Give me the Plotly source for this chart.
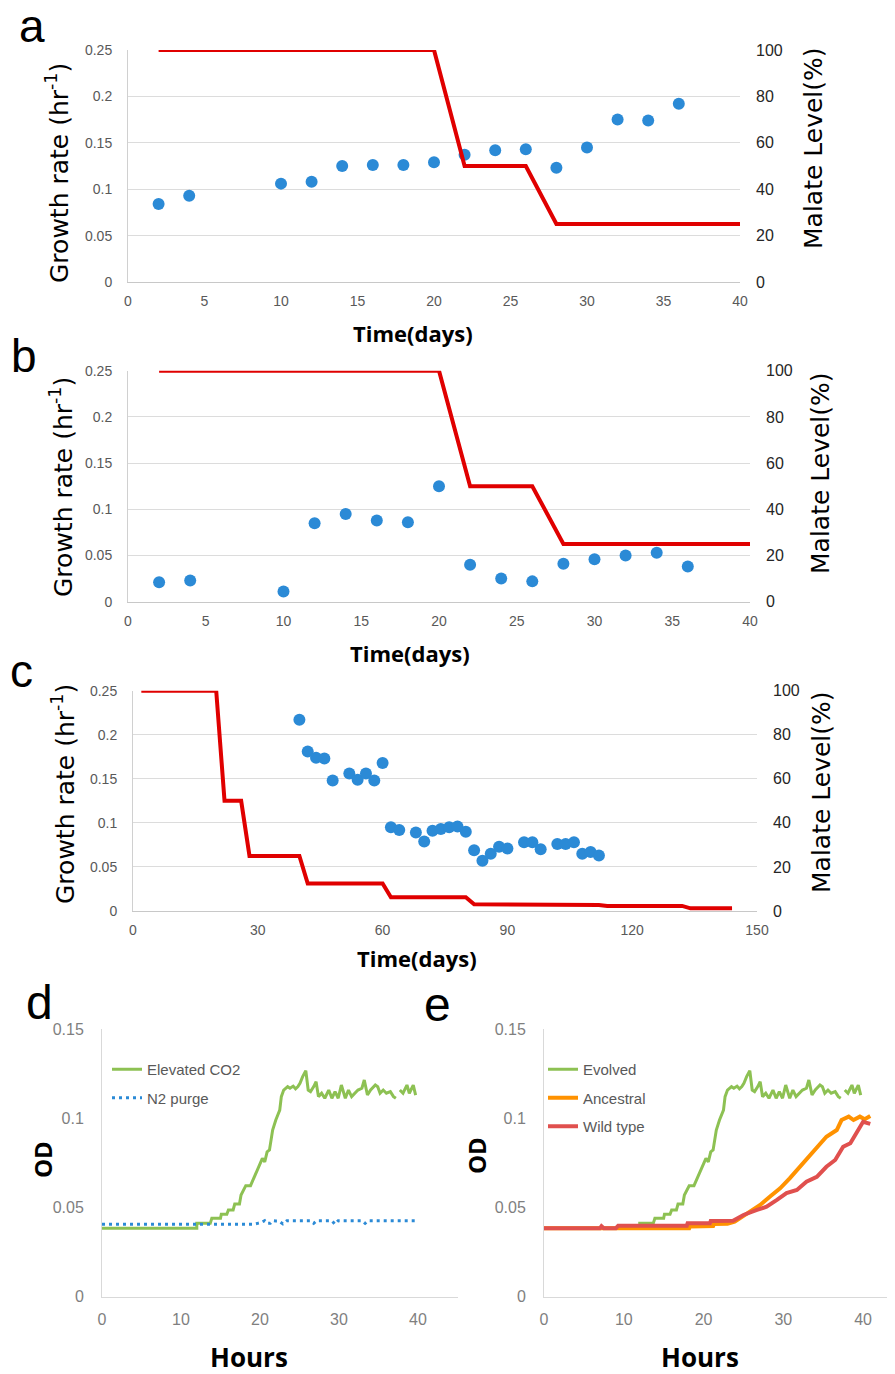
import plotly.graph_objects as go

# page body has an 8px margin: the figure is sized and positioned to compensate
OFF = 8
W, H = 895 - OFF, 1374 - OFF

# ---------------- data ----------------
# panel a
a_days = [2, 4, 10, 12, 14, 16, 18, 20, 22, 24, 26, 28, 30, 32, 34, 36]
a_growth = [0.084, 0.093, 0.106, 0.108, 0.125, 0.126, 0.126, 0.129, 0.137, 0.142, 0.143, 0.123, 0.145, 0.175, 0.174, 0.192]
a_malate_days = [2, 20, 22, 26, 28, 40]
a_malate = [100, 100, 50, 50, 25, 25]

# panel b
b_days = [2, 4, 10, 12, 14, 16, 18, 20, 22, 24, 26, 28, 30, 32, 34, 36]
b_growth = [0.021, 0.023, 0.011, 0.085, 0.095, 0.088, 0.086, 0.125, 0.040, 0.025, 0.022, 0.041, 0.046, 0.050, 0.053, 0.038]
b_malate_days = [2, 20, 22, 26, 28, 40]
b_malate = [100, 100, 50, 50, 25, 25]

# panel c
c_days = [40, 42, 44, 46, 48, 52, 54, 56, 58, 60, 62, 64, 68, 70, 72, 74, 76, 78, 80,
          82, 84, 86, 88, 90, 94, 96, 98, 102, 104, 106, 108, 110, 112]
c_growth = [0.217, 0.181, 0.174, 0.173, 0.148, 0.156, 0.149, 0.156, 0.148, 0.168, 0.095, 0.092,
            0.089, 0.079, 0.091, 0.093, 0.095, 0.096, 0.090, 0.069, 0.057, 0.065, 0.073, 0.071,
            0.078, 0.078, 0.070, 0.076, 0.076, 0.078, 0.065, 0.067, 0.063]
c_malate_days = [2, 20, 22, 26, 28, 40, 42, 60, 62, 80, 82, 106, 108, 112, 114, 132, 134, 144]
c_malate = [100, 100, 50, 50, 25, 25, 12.5, 12.5, 6.25, 6.25, 3.1, 3.1, 2.7, 2.7, 2.3, 2.3, 1.2, 1.2]

# panel d / e : growth curves (OD vs hours)
evolved_h = [0, 12.0, 12.0, 13.7, 13.9, 15.0, 15.1, 15.8, 16.0, 16.6, 16.8, 17.4, 17.6, 18.2, 18.8,
             19.2, 19.6, 20.0, 20.3, 20.6, 20.9, 21.2, 21.6, 22.0, 22.5, 22.7, 23.0, 23.5, 23.8,
             24.2, 24.5, 24.8, 25.06, 25.4, 25.8, 26.1, 26.4, 26.8, 27.1, 27.4, 27.8, 28.2, 28.7,
             29.1, 29.5, 29.9, 30.3, 30.8, 31.2, 31.6, 32.0, 32.4, 32.9, 33.2, 33.6, 34.0, 34.6,
             34.9, 35.2, 35.6, 36.0, 36.5, 36.9, 37.2, None, 37.7, 38.1, 38.6, 38.9, 39.4, 39.7]
evolved_od = [0.0383, 0.0383, 0.0411, 0.0411, 0.0439, 0.0439, 0.0462, 0.0462, 0.0486, 0.0486, 0.0519,
              0.0519, 0.057, 0.0622, 0.0622, 0.0663, 0.070, 0.0738, 0.0775, 0.0756, 0.0812, 0.0822,
              0.0934, 0.099, 0.1046, 0.1121, 0.1158, 0.1177, 0.1168, 0.1180, 0.1165, 0.1177, 0.1196,
              0.1233, 0.1266, 0.1158, 0.1149, 0.1177, 0.1205, 0.1121, 0.1140, 0.1112, 0.1158,
              0.1112, 0.1149, 0.1112, 0.1186, 0.1112, 0.1158, 0.1121, 0.1140, 0.1158, 0.1168,
              0.1214, 0.1130, 0.1158, 0.1186, 0.1177, 0.1140, 0.1158, 0.1140, 0.1149, 0.1121,
              0.1112, None, 0.1158, 0.1140, 0.1186, 0.1140, 0.1186, 0.1130]

n2_h = [0, 19.2, 19.7, 20.1, 20.6, 20.9, 21.3, 21.6, 22.0, 22.4, 22.9, 23.4, 26.4, 26.8, 27.2,
        29.1, 29.5, 29.9, 32.9, 33.3, 33.7, 40]
n2_od = [0.0406, 0.0406, 0.0411, 0.0415, 0.0426, 0.0411, 0.0411, 0.0426, 0.0424, 0.0424, 0.0408,
         0.0426, 0.0426, 0.0411, 0.0426, 0.0426, 0.0406, 0.0426, 0.0426, 0.0411, 0.0426, 0.0426]

ancestral_h = [0, 18.2, 18.3, 21.2, 21.3, 23.0, 23.9, 25.4, 27.1, 28.3, 29.6, 30.8, 32.1, 33.1,
               34.2, 35.4, 36.7, 37.3, 38.2, 38.8, 39.6, 40.2, 40.9]
ancestral_od = [0.0383, 0.0383, 0.0394, 0.0396, 0.0407, 0.0409, 0.042, 0.0467, 0.0514, 0.056,
                0.0607, 0.0663, 0.0728, 0.0784, 0.084, 0.0896, 0.0934, 0.099, 0.1009, 0.099,
                0.1009, 0.0994, 0.1012]

wild_h = [0, 7.0, 7.2, 7.5, 9.0, 9.3, 17.9, 18.0, 20.8, 20.9, 23.7, 25.0, 26.7, 27.9, 29.2, 30.4,
          31.7, 32.9, 34.2, 35.4, 36.5, 37.5, 38.4, 39.2, 40.0, 40.9]
wild_od = [0.0383, 0.0383, 0.0395, 0.0383, 0.0383, 0.0398, 0.0398, 0.0411, 0.0411, 0.0424, 0.0426,
           0.0458, 0.0486, 0.0504, 0.0542, 0.058, 0.0598, 0.0644, 0.0672, 0.0728, 0.0766, 0.084,
           0.086, 0.0916, 0.098, 0.0968]

growth_ticks = [0, 0.05, 0.1, 0.15, 0.2, 0.25]
growth_ticktext = ["0", "0.05", "0.1", "0.15", "0.2", "0.25"]
malate_ticks = [0, 20, 40, 60, 80, 100]
od_ticks = [0, 0.05, 0.1, 0.15]
od_ticktext = ["0", "0.05", "0.1", "0.15"]

# ---------------- styling ----------------
BLUE = "#2b8ad6"
RED = "#e00000"
GREEN = "#8dc153"
ORANGE = "#ff9200"
WRED = "#e0504e"
NARROW = "Liberation Sans Narrow, Arial Narrow, Liberation Sans, sans-serif"
GRAY = "#595959"


def px(x):
    return (x - OFF) / W


def py(y):
    return 1 - (y - OFF) / H


fig = go.Figure()

panels = [
    ("x", "y", "y2", a_days, a_growth, a_malate_days, a_malate),
    ("x2", "y3", "y4", b_days, b_growth, b_malate_days, b_malate),
    ("x3", "y5", "y6", c_days, c_growth, c_malate_days, c_malate),
]
for xa, yl_, yr_, d, g, md, m in panels:
    fig.add_trace(go.Scatter(x=md, y=m, xaxis=xa, yaxis=yr_, mode="lines",
                             line=dict(color=RED, width=4), showlegend=False,
                             cliponaxis=False))
    fig.add_trace(go.Scatter(x=d, y=g, xaxis=xa, yaxis=yl_, mode="markers",
                             marker=dict(color=BLUE, size=12), showlegend=False,
                             cliponaxis=False))

# panel d
fig.add_trace(go.Scatter(x=evolved_h, y=evolved_od, xaxis="x4", yaxis="y7", mode="lines",
                         name="Elevated CO2", line=dict(color=GREEN, width=3),
                         legend="legend", legendgroup="d1"))
fig.add_trace(go.Scatter(x=n2_h, y=n2_od, xaxis="x4", yaxis="y7", mode="lines",
                         name="N2 purge", line=dict(color=BLUE, width=3, dash="3px,4px"),
                         legend="legend", legendgroup="d2"))
# panel e
fig.add_trace(go.Scatter(x=evolved_h, y=evolved_od, xaxis="x5", yaxis="y8", mode="lines",
                         name="Evolved", line=dict(color=GREEN, width=3),
                         legend="legend2", legendgroup="e1"))
fig.add_trace(go.Scatter(x=ancestral_h, y=ancestral_od, xaxis="x5", yaxis="y8", mode="lines",
                         name="Ancestral", line=dict(color=ORANGE, width=4),
                         legend="legend2", legendgroup="e2"))
fig.add_trace(go.Scatter(x=wild_h, y=wild_od, xaxis="x5", yaxis="y8", mode="lines",
                         name="Wild type", line=dict(color=WRED, width=4),
                         legend="legend2", legendgroup="e3"))

tickfont = dict(family=NARROW, size=14, color=GRAY)
rtickfont = dict(family=NARROW, size=16, color="#262626")


def xax(dom, rng, dtick, anchor, tf=tickfont, standoff=6):
    return dict(domain=dom, range=rng, dtick=dtick, tick0=0, anchor=anchor,
                showgrid=False, zeroline=False, showline=True, linecolor="#c8c8c8",
                linewidth=1, ticks="", tickfont=tf, fixedrange=True,
                ticklabelstandoff=standoff)


def yl(dom, anchor):
    return dict(domain=dom, range=[0, 0.25], tickvals=growth_ticks, ticktext=growth_ticktext,
                anchor=anchor, showgrid=True, gridcolor="#dcdcdc", gridwidth=1,
                zeroline=False, showline=True, linecolor="#d0d0d0", ticks="",
                tickfont=tickfont, ticklabelstandoff=12)


def yr(overlay, anchor):
    return dict(overlaying=overlay, side="right", range=[0, 100], tickvals=malate_ticks,
                anchor=anchor, showgrid=False, zeroline=False, showline=False, ticks="",
                tickfont=rtickfont, ticklabelstandoff=15)


layout = dict(
    width=W, height=H, margin=dict(l=0, r=0, t=0, b=0, autoexpand=False),
    paper_bgcolor="white", plot_bgcolor="white",
    xaxis=xax([px(128), px(740)], [0, 40], 5, "y"),
    yaxis=yl([py(282), py(50)], "x"),
    yaxis2=yr("y", "x"),
    xaxis2=xax([px(128), px(750)], [0, 40], 5, "y3"),
    yaxis3=yl([py(601.7), py(370.7)], "x2"),
    yaxis4=yr("y3", "x2"),
    xaxis3=xax([px(133), px(757)], [0, 150], 30, "y5"),
    yaxis5=yl([py(911), py(690.7)], "x3"),
    yaxis6=yr("y5", "x3"),
)

od_tickfont = dict(family="Liberation Sans, sans-serif", size=16, color="#7f7f7f")
for k, dom, rng, anc in [("xaxis4", [px(102), px(457.5)], [0, 45], "y7"),
                         ("xaxis5", [px(544), 1.0], [0, 44.0], "y8")]:
    layout[k] = xax(dom, rng, 10, anc, od_tickfont, standoff=8)
    layout[k]["tickvals"] = [0, 10, 20, 30, 40]
    layout[k]["linecolor"] = "#d9d9d9"
for k, anc in [("yaxis7", "x4"), ("yaxis8", "x5")]:
    layout[k] = dict(domain=[py(1296.7), py(1029)], range=[0, 0.15], tickvals=od_ticks,
                     ticktext=od_ticktext, anchor=anc, showgrid=False, zeroline=False,
                     showline=True, linecolor="#d9d9d9", ticks="", tickfont=od_tickfont,
                     ticklabelstandoff=14)

legfont = dict(family="Liberation Sans, sans-serif", size=15, color=GRAY)
layout["legend"] = dict(x=px(107), y=py(1053), xanchor="left", yanchor="top",
                        bgcolor="rgba(0,0,0,0)", font=legfont, itemwidth=30,
                        tracegroupgap=6)
layout["legend2"] = dict(x=px(543), y=py(1053), xanchor="left", yanchor="top",
                         bgcolor="rgba(0,0,0,0)", font=legfont, itemwidth=30,
                         tracegroupgap=6)

fig.update_layout(**layout)

anns = []


def ann(text, x, y, size, bold=False, angle=0, family="Liberation Sans, sans-serif", color="black"):
    t = f"<b>{text}</b>" if bold else text
    anns.append(dict(text=t, x=px(x), y=py(y), xref="paper", yref="paper", showarrow=False,
                     xanchor="center", yanchor="middle", textangle=angle,
                     font=dict(family=family, size=size, color=color)))


LETTER = "Liberation Sans, sans-serif"
ann("a", 32, 26, 46, family=LETTER)
ann("b", 24, 356, 46, family=LETTER)
ann("c", 21, 671, 46, family=LETTER)
ann("d", 39, 1002, 48, family=LETTER)
ann("e", 437, 1004, 48, family=LETTER)

YT = "DejaVu Sans, sans-serif"
TT = "Open Sans, sans-serif"
for (gx, gy, mx, my, tx, ty) in [(57, 173, 814, 148, 413, 333),
                                 (61, 487, 821, 473, 410, 653),
                                 (63, 794, 821, 792, 417, 958)]:
    ann("Growth rate (hr<sup>-1</sup>)", gx, gy, 25, angle=-90, family=YT)
    ann("Malate Level(%)", mx, my, 25, angle=-90, family=YT)
    ann("Time(days)", tx, ty, 22, bold=True, family=TT)

ann("OD", 42, 1160, 24, bold=True, angle=-90, family=TT)
ann("Hours", 249, 1357, 26, bold=True, family=TT)
ann("OD", 476, 1155, 24, bold=True, angle=-90, family=TT)
ann("Hours", 700, 1357, 26, bold=True, family=TT)

fig.update_layout(annotations=anns)
fig.write_html("out.html")
